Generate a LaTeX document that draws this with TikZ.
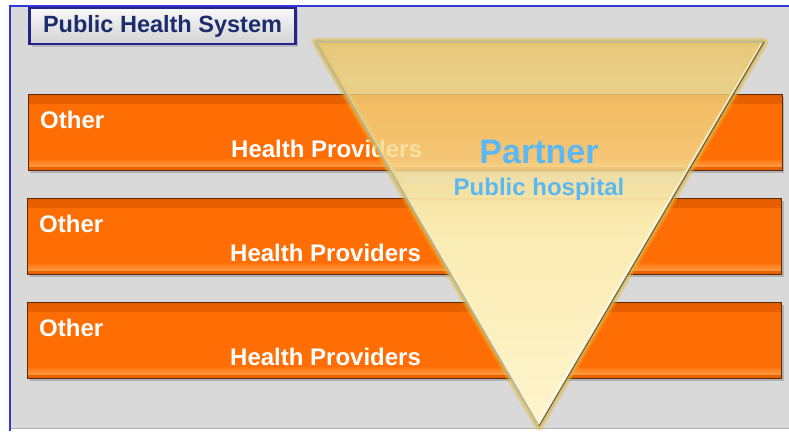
\documentclass[tikz,border=0pt]{standalone}
\usepackage{fontspec}
\setmainfont{Liberation Sans}
\usetikzlibrary{calc}
\definecolor{framegray}{HTML}{D9D9D9}
\definecolor{frameblue}{HTML}{3434D8}
\definecolor{titlenavy}{HTML}{1C2C6C}
\definecolor{boxborder}{HTML}{24248C}
\definecolor{barorange}{HTML}{FF6D05}
\definecolor{bardark}{HTML}{E45E00}
\definecolor{barlight}{HTML}{FF9E45}
\definecolor{baredge}{HTML}{5A2A08}
\definecolor{goldtop}{HTML}{E2AC38}
\definecolor{goldtwo}{HTML}{E9BE55}
\definecolor{goldmid}{HTML}{F2DA8E}
\definecolor{goldpale}{HTML}{FAEBB2}
\definecolor{goldlow}{HTML}{FFF6D0}
\definecolor{goldbot}{HTML}{FFFDF0}
\definecolor{goldglow}{HTML}{E0B83C}
\definecolor{partnerblue}{HTML}{5CB8F2}
\pgfdeclareverticalshading{trigrad}{100bp}{color(0bp)=(goldbot); color(22bp)=(goldlow); color(51bp)=(goldpale); color(61bp)=(goldmid); color(80bp)=(goldtwo); color(100bp)=(goldtop)}
\tikzset{
  barbox/.style={draw=baredge, line width=0.8pt, fill=barorange,
    minimum width=754pt, minimum height=76pt, inner sep=0pt,
    path picture={
      \shade[top color=bardark, bottom color=barorange]
        (path picture bounding box.north west) rectangle ([yshift=-9pt]path picture bounding box.north east);
      \shade[top color=barorange, bottom color=barlight]
        ([yshift=12pt]path picture bounding box.south west) rectangle ([yshift=3pt]path picture bounding box.south east);
      \fill[bardark!80!barorange]
        ([yshift=3pt]path picture bounding box.south west) rectangle (path picture bounding box.south east);
    }},
  barshadow/.style={fill=black, opacity=0.18, minimum width=754pt, minimum height=76pt, inner sep=0pt},
  bartext/.style={text=white, font=\bfseries\fontsize{24}{28}\selectfont, inner sep=0pt, anchor=base west},
  titlebox/.style={draw=boxborder, line width=2.2pt, top color=white!95!gray, bottom color=gray!35,
    minimum width=266pt, minimum height=36pt, inner sep=0pt,
    text=titlenavy, font=\bfseries\fontsize{23.5}{27}\selectfont},
  bigtext/.style={text=partnerblue, font=\bfseries\fontsize{34}{38}\selectfont, inner sep=0pt, anchor=base},
  subtext/.style={text=partnerblue, font=\bfseries\fontsize{24}{28}\selectfont, inner sep=0pt, anchor=base},
  trishade/.style={shading=trigrad},
}
\begin{document}
\begin{tikzpicture}[x=1pt,y=-1pt]
\useasboundingbox (0,0) rectangle (789,431);
% frame
\fill[framegray] (10,6) rectangle (789,428);
\draw[gray!60, line width=1pt] (10,428) -- (789,428);
\draw[frameblue, line width=1.5pt] (10,431) -- (10,6) -- (789,6);
% title
\node[fill=black, opacity=0.15, minimum width=266pt, minimum height=36pt] at (165,29) {};
\node[titlebox] (title) at (162.5,26) {Public Health System};
% bars
\foreach \y in {132, 236, 340} {
  \node[barshadow] at (407,\y+3) {};
}
\node[barbox] (bar1) at (405,132) {};
\node[barbox] (bar2) at (404,236) {};
\node[barbox] (bar3) at (404,340) {};
\node[bartext] (other1) at (40,128) {Other};
\node[bartext] (hp1) at (231,157) {Health Providers};
\node[bartext] (other2) at (39,232) {Other};
\node[bartext] (hp2) at (230,261) {Health Providers};
\node[bartext] (other3) at (39,336) {Other};
\node[bartext] (hp3) at (230,365) {Health Providers};
% triangle
\coordinate (tl) at (316,42);
\coordinate (tr) at (764,42);
\coordinate (ap) at (539,426);
\draw[goldglow, line width=9pt, line join=round, opacity=0.35] (tl) -- (tr) -- (ap) -- cycle;
\draw[goldglow, line width=5pt, line join=round, opacity=0.6] (tl) -- (tr) -- (ap) -- cycle;
\shade[trishade, fill opacity=0.8] (tl) -- (tr) -- (ap) -- cycle;
\begin{scope}
  \clip (0,184) rectangle (789,431);
  \shade[trishade, fill opacity=0.7] (tl) -- (tr) -- (ap) -- cycle;
\end{scope}
\begin{scope}
  \clip (0,200) rectangle (789,431);
  \shade[trishade] (tl) -- (tr) -- (ap) -- cycle;
\end{scope}
\draw[white!70!cyan!40!gray, line width=1.2pt] (ap) -- (tl) -- (tr);
\draw[white, line width=1pt, opacity=0.8] ($(tr)+(-2.5,1)$) -- ($(ap)+(-0.8,-4)$);
\draw[black!65, line width=1pt] (tr) -- (ap);
\node[bigtext] (partner) at (539,163) {Partner};
\node[subtext] (hospital) at (539,195) {Public hospital};
\end{tikzpicture}
\end{document}
